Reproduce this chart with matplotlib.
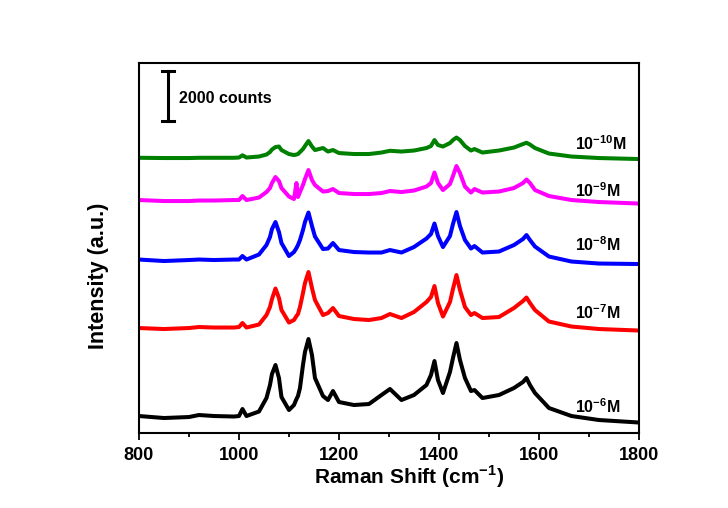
import matplotlib
matplotlib.use("Agg")
import matplotlib.pyplot as plt
from matplotlib.ticker import MultipleLocator

plt.rcParams['font.family'] = ['Liberation Sans', 'DejaVu Sans']
plt.rcParams['font.weight'] = 'bold'
plt.rcParams['mathtext.fontset'] = 'custom'
plt.rcParams['mathtext.rm'] = 'Liberation Sans:bold'
plt.rcParams['mathtext.bf'] = 'Liberation Sans:bold'

# Raman shift (cm-1), shared by all spectra
shift = [800, 850, 900, 920, 950, 990, 1000, 1007, 1015, 1040,
         1055, 1062, 1066, 1073, 1080, 1085, 1100, 1110, 1115, 1118,
         1122, 1128, 1132, 1139, 1146, 1152, 1168, 1178, 1188, 1200,
         1230, 1260, 1285, 1302, 1325, 1350, 1375, 1384, 1391, 1398,
         1408, 1422, 1428, 1435, 1442, 1452, 1464, 1471, 1487, 1520,
         1550, 1568, 1575, 1582, 1592, 1620, 1665, 1720, 1800]

# stacked intensities (counts, offsets included)
c_1e6 = [680, 600, 640, 720, 680, 660, 680, 960, 680, 860,
         1400, 1920, 2360, 2720, 2200, 1440, 920, 1120, 1360, 1480,
         1800, 2720, 3240, 3760, 3120, 2200, 1480, 1320, 1680, 1240,
         1120, 1160, 1520, 1760, 1320, 1520, 1920, 2320, 2880, 2120,
         1600, 2440, 3000, 3600, 2920, 2200, 1680, 1720, 1400, 1520,
         1800, 2040, 2200, 1920, 1600, 1000, 680, 520, 420]

c_1e7 = [4200, 4160, 4200, 4240, 4220, 4220, 4240, 4400, 4220, 4340,
         4720, 5040, 5360, 5780, 5400, 4920, 4420, 4520, 4680, 4760,
         5040, 5600, 6000, 6440, 5800, 5320, 4720, 4800, 5000, 4680,
         4560, 4520, 4600, 4760, 4600, 4840, 5240, 5440, 5880, 5200,
         4660, 5240, 5760, 6320, 5720, 5040, 4720, 4800, 4600, 4640,
         5000, 5280, 5420, 5200, 4920, 4460, 4260, 4160, 4100]

c_1e8 = [6940, 6880, 6920, 6940, 6920, 6940, 6940, 7080, 6940, 7140,
         7520, 7840, 8160, 8440, 8040, 7600, 7080, 7240, 7400, 7520,
         7720, 8120, 8440, 8820, 8280, 7860, 7360, 7380, 7600, 7320,
         7240, 7220, 7220, 7320, 7220, 7440, 7780, 7960, 8380, 7880,
         7440, 7880, 8360, 8840, 8280, 7720, 7380, 7480, 7220, 7260,
         7520, 7760, 7920, 7720, 7460, 7060, 6860, 6780, 6760]

c_1e9 = [9320, 9280, 9280, 9300, 9300, 9320, 9320, 9480, 9320, 9420,
         9640, 9800, 10000, 10240, 10080, 9800, 9460, 9360, 10000, 9440,
         9640, 9920, 10160, 10520, 10120, 9920, 9660, 9680, 9760, 9600,
         9560, 9560, 9600, 9680, 9640, 9700, 9860, 10000, 10420, 10000,
         9720, 9960, 10280, 10680, 10400, 9860, 9620, 9760, 9620, 9660,
         9800, 10000, 10140, 10000, 9720, 9480, 9320, 9240, 9180]

c_1e10 = [11010, 11000, 11000, 11010, 11010, 11010, 11020, 11110, 11020, 11060,
          11140, 11240, 11340, 11440, 11460, 11320, 11160, 11120, 11140, 11160,
          11240, 11360, 11480, 11680, 11460, 11320, 11400, 11260, 11320, 11200,
          11160, 11160, 11220, 11290, 11260, 11300, 11400, 11480, 11720, 11520,
          11460, 11600, 11720, 11820, 11720, 11480, 11300, 11360, 11220, 11300,
          11420, 11560, 11610, 11540, 11400, 11180, 11060, 11000, 10960]

spectra = [c_1e6, c_1e7, c_1e8, c_1e9, c_1e10]
colors = ['black', '#ff0000', '#0000ff', '#ff00ff', '#008000']
labels = [r'10$^{-6}$M', r'10$^{-7}$M', r'10$^{-8}$M', r'10$^{-9}$M', r'10$^{-10}$M']
label_y = [1040, 4800, 7520, 9680, 11560]

fig = plt.figure(figsize=(7.28, 5.08), dpi=100)
ax = fig.add_axes([0.1909, 0.1476, 0.6868, 0.7283])

for s, c in zip(spectra, colors):
    ax.plot(shift, s, color=c, lw=2.9, solid_joinstyle='round', solid_capstyle='round')

for lab, ly in zip(labels, label_y):
    ax.text(1672, ly, lab, fontsize=11.5, fontweight='bold', va='center', ha='left')

# scale bar: 2000 counts
ax.plot([858, 858], [12500, 14500], color='black', lw=2.2)
ax.plot([846, 870], [14500, 14500], color='black', lw=2.2)
ax.plot([846, 870], [12500, 12500], color='black', lw=2.2)
ax.text(880, 13400, '2000 counts', fontsize=11.5, fontweight='bold', va='center', ha='left')

ax.set_xlim(800, 1800)
ax.set_ylim(0, 14800)
ax.set_yticks([])
ax.xaxis.set_major_locator(MultipleLocator(200))
ax.xaxis.set_minor_locator(MultipleLocator(100))
ax.tick_params(axis='x', which='major', direction='out', length=5, width=1.3, labelsize=13, pad=5)
ax.tick_params(axis='x', which='minor', direction='out', length=3, width=1.3)
for sp in ax.spines.values():
    sp.set_linewidth(1.5)
for t in ax.get_xticklabels():
    t.set_fontweight('bold')

fig.text(409 / 728, 1 - 477 / 508, r'Raman Shift (cm$^{-1}$)', fontsize=15, fontweight='bold',
         ha='center', va='center')
fig.text(99 / 728, 1 - 276 / 508, 'Intensity (a.u.)', fontsize=15.5, fontweight='bold',
         ha='center', va='center', rotation=90)

fig.savefig('out.png', dpi=100)
